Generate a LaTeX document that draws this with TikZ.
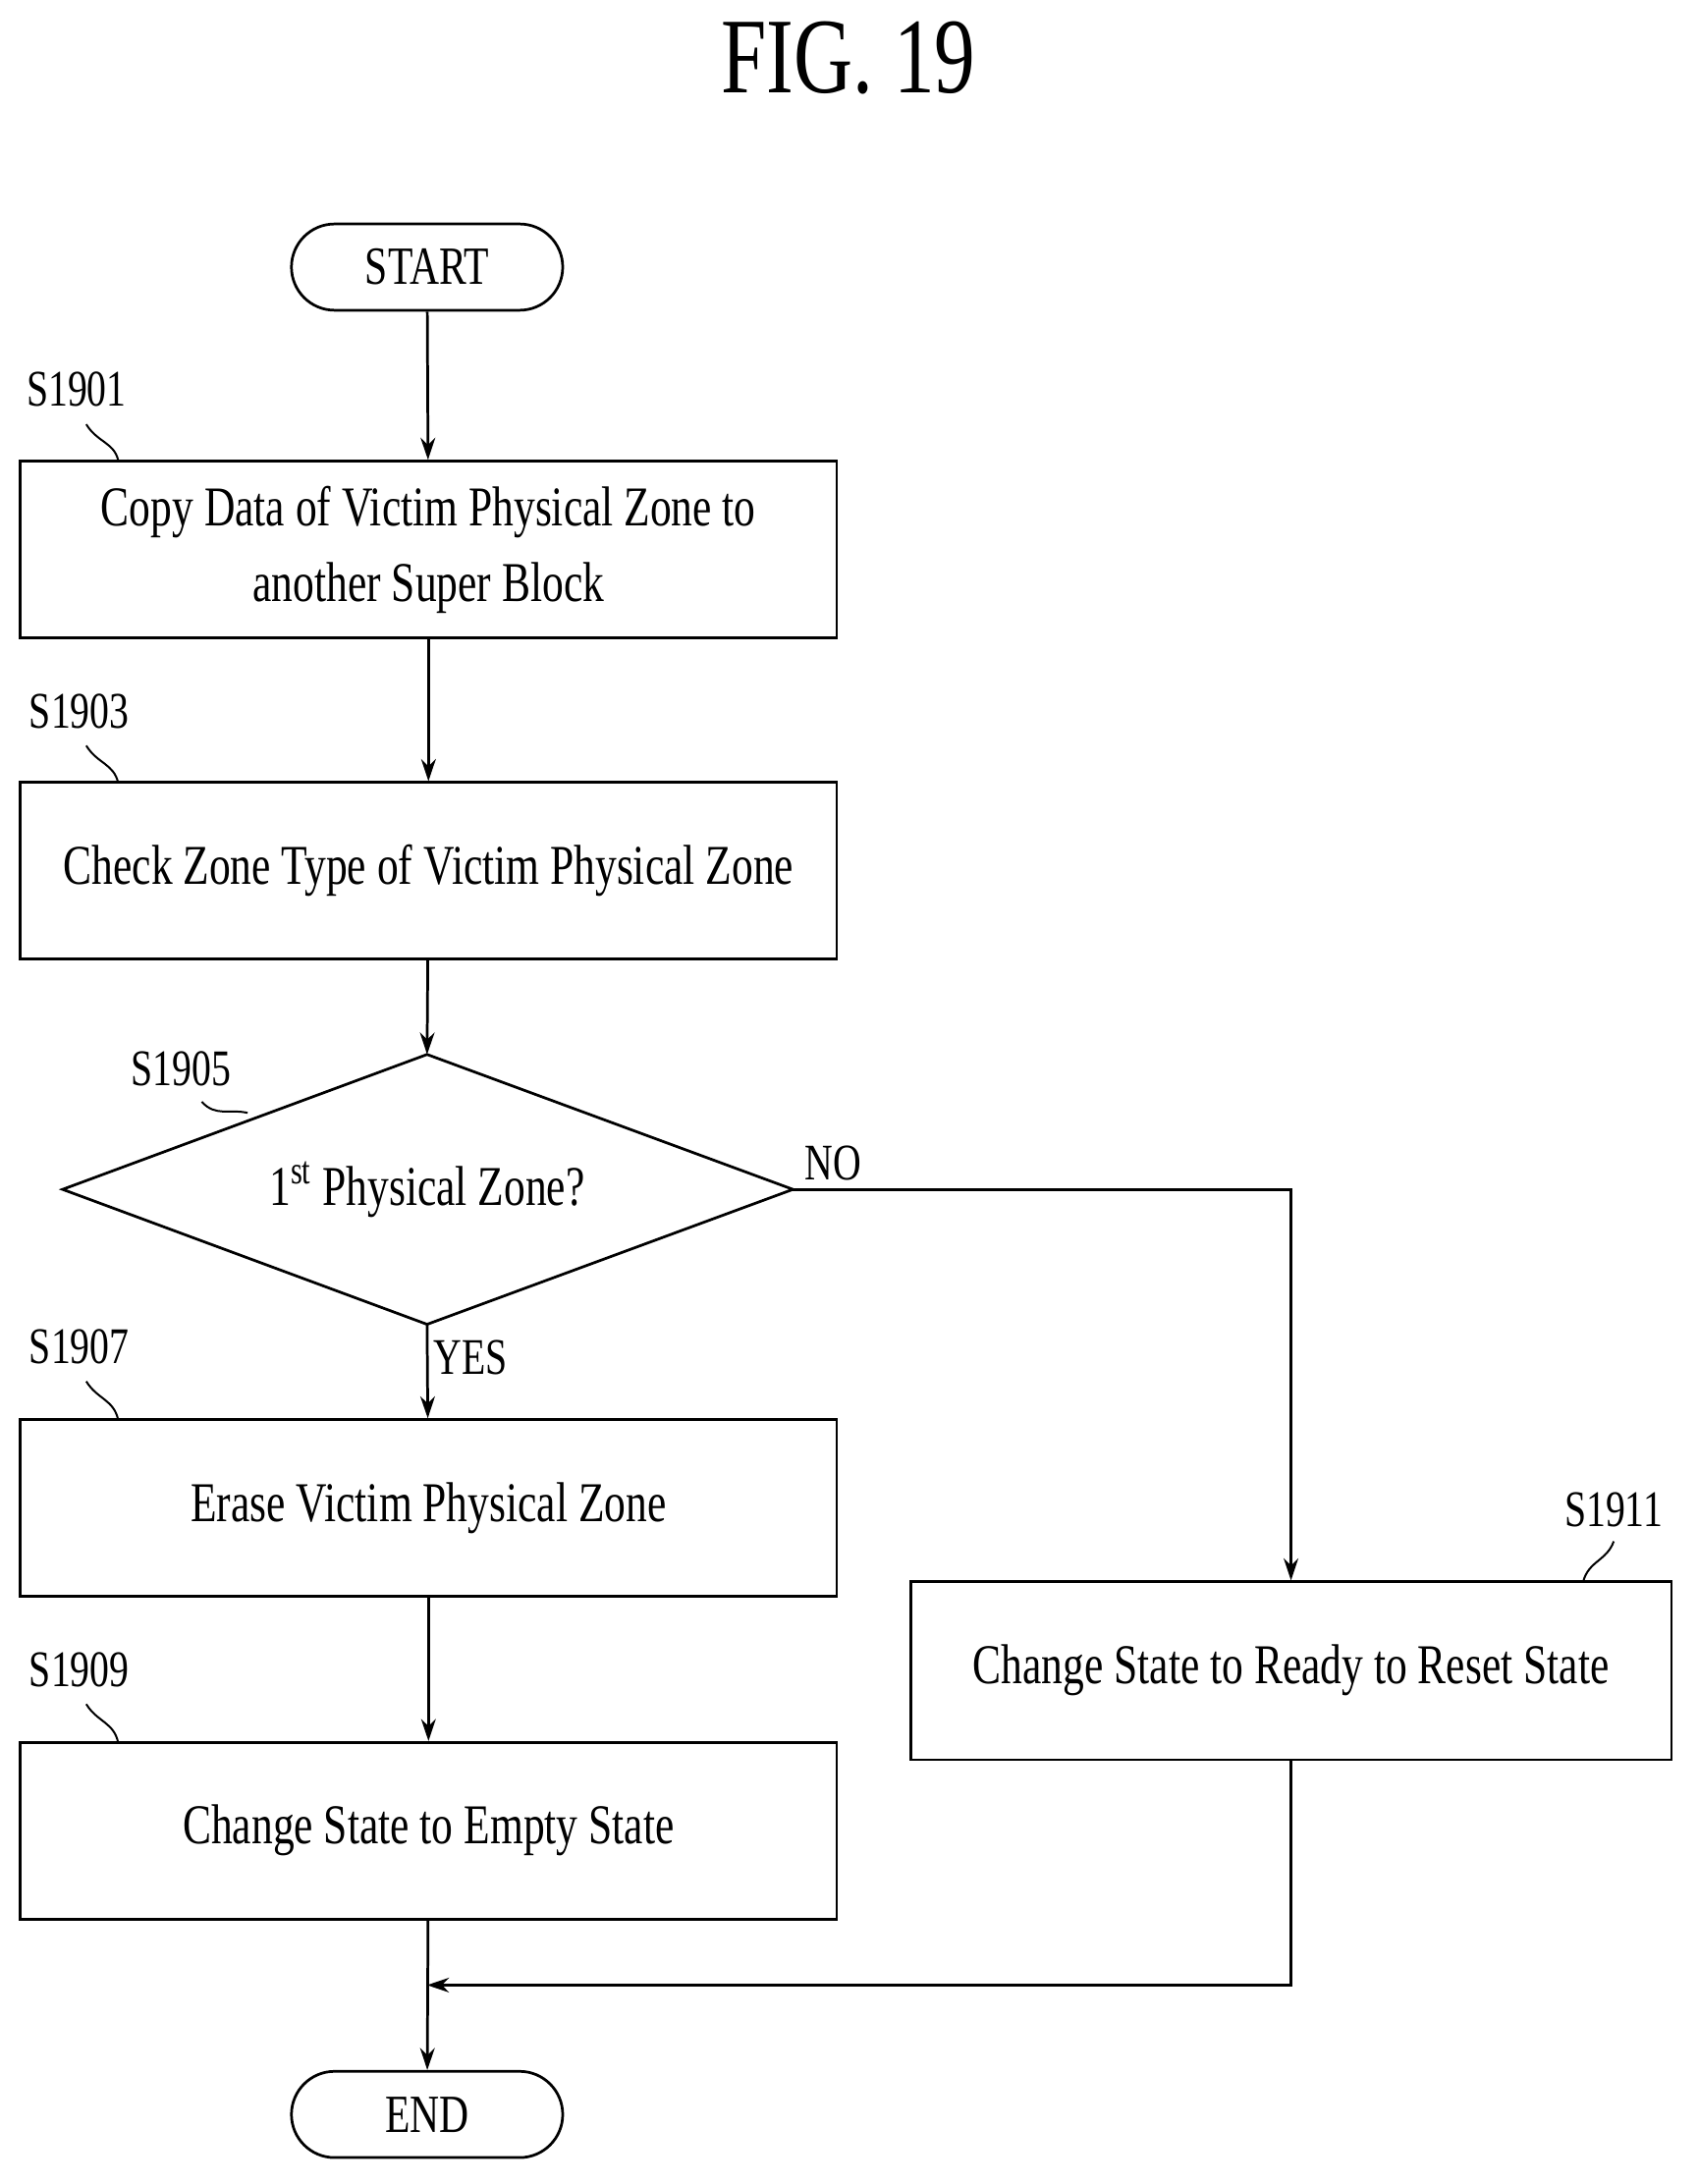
\documentclass[tikz,border=0pt]{standalone}
\usepackage{fontspec}
\setmainfont{Liberation Serif}[FakeStretch=0.76]
\usetikzlibrary{shapes.geometric,arrows.meta}
\begin{document}
\begin{tikzpicture}[x=0.02cm,y=-0.02cm,line width=1.1pt,
  box/.style={draw,minimum width=587*0.02cm,minimum height=127*0.02cm,align=center,font=\fontsize{23}{31}\selectfont},
  term/.style={draw,rounded corners=31*0.02cm,minimum width=195*0.02cm,minimum height=62*0.02cm,font=\fontsize{22}{26}\selectfont},
  lab/.style={font=\fontsize{21}{24}\selectfont},
  arr/.style={-{Stealth[length=9pt,width=6pt]}}]
\useasboundingbox (0,0) rectangle (1220,1570);
\node[font=\fontsize{44}{50}\selectfont] (fig) at (610,42) {FIG. 19};
\node[term] (start) at (307,192) {START};
\node[box] (b1) at (308,395) {Copy Data of Victim Physical Zone to\\another Super Block};
\node[box] (b3) at (308,626) {Check Zone Type of Victim Physical Zone};
\coordinate (dn) at (307,758);
\coordinate (ds) at (307,952);
\coordinate (dw) at (45,855);
\coordinate (de) at (570,855);
\draw (dn) -- (de) -- (ds) -- (dw) -- cycle;
\node[font=\fontsize{23}{26}\selectfont] (d) at (307,855) {1\textsuperscript{st} Physical Zone?};
\node[box] (b7) at (308,1084) {Erase Victim Physical Zone};
\node[box] (b9) at (308,1316) {Change State to Empty State};
\node[box,minimum width=547*0.02cm,minimum height=128*0.02cm] (b11) at (928,1201) {Change State to Ready to Reset State};
\node[term] (end) at (307,1520) {END};
\coordinate (m) at (928,1427);
\coordinate (mt) at (307,1427);
\draw[arr] (start) -- (b1);
\draw[arr] (b1) -- (b3);
\draw[arr] (b3) -- (dn);
\draw[arr] (ds) -- node[lab,right,pos=0.35,inner sep=2pt]{YES} (b7);
\draw[arr] (de) -- node[lab,above,pos=0.08]{NO} (928,855) -- (b11);
\draw[arr] (b7) -- (b9);
\draw[arr] (b9) -- (end);
\draw[arr] (b11) -- (m) -- (mt);
\node[lab] (l1) at (55,280) {S1901};
\node[lab] (l3) at (57,511) {S1903};
\node[lab] (l5) at (130,768) {S1905};
\node[lab] (l7) at (57,968) {S1907};
\node[lab] (l9) at (57,1200) {S1909};
\node[lab] (l11) at (1160,1085) {S1911};
\draw[line width=0.8pt] (62,305) .. controls (70,318) and (82,318) .. (85,331);
\draw[line width=0.8pt] (62,536) .. controls (70,549) and (82,549) .. (85,563);
\draw[line width=0.8pt] (145,792) .. controls (155,803) and (165,797) .. (178,800);
\draw[line width=0.8pt] (62,993) .. controls (70,1006) and (82,1006) .. (85,1021);
\draw[line width=0.8pt] (62,1225) .. controls (70,1238) and (82,1238) .. (85,1253);
\draw[line width=0.8pt] (1160,1108) .. controls (1155,1122) and (1142,1122) .. (1138,1137);
\end{tikzpicture}
\end{document}
